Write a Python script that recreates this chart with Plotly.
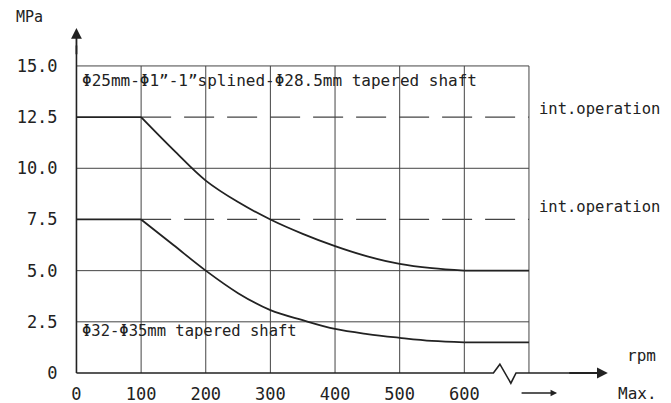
import plotly.graph_objects as go

# ---- data ----
rpm = [0, 100, 150, 200, 250, 300, 350, 400, 450, 500, 550, 600, 700]
upper_mpa = [12.5, 12.5, 10.9, 9.4, 8.35, 7.5, 6.8, 6.2, 5.7, 5.33, 5.12, 5.0, 5.0]
lower_mpa = [7.5, 7.5, 6.25, 5.0, 3.9, 3.07, 2.58, 2.15, 1.9, 1.72, 1.57, 1.5, 1.5]
int_levels = [12.5, 7.5]
x_ticks = [0, 100, 200, 300, 400, 500, 600]
x_ticktext = ["0", "100", "200", "300", "400", "500", "600"]
y_ticks = [0, 2.5, 5.0, 7.5, 10.0, 12.5, 15.0]
y_ticktext = ["0", "2.5", "5.0", "7.5", "10.0", "12.5", "15.0"]
upper_label = "Φ25mm-Φ1”-1”splined-Φ28.5mm tapered shaft"
lower_label = "Φ32-Φ35mm tapered shaft"
int_label = "int.operation"

INK = "#222222"
GRID = "#444444"
FONT = "DejaVu Sans Mono"
x_max = 700
y_max = 15.0
X_RANGE = [-10, 830]
Y_RANGE = [0, 17]

fig = go.Figure()

def seg(x0, y0, x1, y1, color=GRID, width=1, dash="solid"):
    fig.add_trace(go.Scatter(x=[x0, x1], y=[y0, y1], mode="lines",
                             line=dict(color=color, width=width, dash=dash),
                             cliponaxis=False, hoverinfo="skip"))

# grid
for xv in x_ticks[1:]:
    seg(xv, 0, xv, y_max)
for yv in [2.5, 5.0, 10.0]:
    seg(0, yv, x_max, yv)
seg(0, y_max, x_max, y_max)
seg(x_max, 0, x_max, y_max)

# intermittent-operation dashed levels
for lv in int_levels:
    seg(rpm[1], lv, x_max, lv, color=GRID, width=1.2, dash="30px,13px")

# curves: flat / smooth / flat
i100 = rpm.index(100)
i600 = rpm.index(600)
for ser in (upper_mpa, lower_mpa):
    fig.add_trace(go.Scatter(x=rpm[:i100 + 1], y=ser[:i100 + 1], mode="lines",
                             line=dict(color=INK, width=1.8), cliponaxis=False, hoverinfo="skip"))
    fig.add_trace(go.Scatter(x=rpm[i100:i600 + 1], y=ser[i100:i600 + 1], mode="lines",
                             line=dict(color=INK, width=1.8, shape="spline", smoothing=1.0),
                             cliponaxis=False, hoverinfo="skip"))
    fig.add_trace(go.Scatter(x=rpm[i600:], y=ser[i600:], mode="lines",
                             line=dict(color=INK, width=1.8), cliponaxis=False, hoverinfo="skip"))

# x axis with break (paper-referenced so it is not clipped at the plot edge)
def to_px(x):
    return (x - X_RANGE[0]) / (X_RANGE[1] - X_RANGE[0])

def to_py(y):
    return (y - Y_RANGE[0]) / (Y_RANGE[1] - Y_RANGE[0])

axis_x = [0, 645, 655, 672, 680, 800]
axis_y = [0, 0, 0.43, -0.5, 0, 0]
path = "M " + " L ".join(f"{to_px(a):.5f},{to_py(b):.5f}" for a, b in zip(axis_x, axis_y))
shapes = [dict(type="path", path=path, xref="paper", yref="paper",
               line=dict(color=INK, width=1.6))]

# y axis line
fig.add_trace(go.Scatter(x=[0, 0], y=[0, 16.0], mode="lines",
                         line=dict(color=INK, width=1.6), cliponaxis=False, hoverinfo="skip"))

ann = []
# arrow heads
ann.append(dict(x=822, y=0, ax=760, ay=0, xref="x", yref="y", axref="x", ayref="y",
                text="", showarrow=True, arrowhead=2, arrowsize=1.2, arrowwidth=1.8,
                arrowcolor=INK))
ann.append(dict(x=0, y=16.85, ax=0, ay=15.5, xref="x", yref="y", axref="x", ayref="y",
                text="", showarrow=True, arrowhead=2, arrowsize=1.2, arrowwidth=1.8,
                arrowcolor=INK))
ann.append(dict(x=0.897, y=-0.0575, ax=-37, ay=0, xref="paper", yref="paper",
                axref="pixel", ayref="pixel",
                text="", showarrow=True, arrowhead=2, arrowsize=1.0, arrowwidth=1.3,
                arrowcolor=INK))

def label(x, y, text, size=16, xanchor="left", ref="x"):
    ann.append(dict(x=x, y=y, xref=ref, yref=("y" if ref == "x" else "paper"),
                    text=text, showarrow=False,
                    xanchor=xanchor, yanchor="middle",
                    font=dict(family=FONT, size=size, color=INK)))

label(5, 14.3, upper_label, 16)
label(5, 2.05, lower_label, 15.5)
label(712, 12.9, int_label, 15.5)
label(712, 8.1, int_label, 15.5)
label(-0.0737, 1.023, "MPa", 15, "center", "paper")
label(1.0516, 0.0489, "rpm", 16, "center", "paper")
label(1.046, -0.0575, "Max.", 16, "center", "paper")

fig.update_layout(
    width=671, height=403,
    margin=dict(l=62, r=66, t=17, b=38),
    paper_bgcolor="white", plot_bgcolor="white",
    showlegend=False, hovermode=False,
    annotations=ann, shapes=shapes,
    xaxis=dict(range=X_RANGE, tickvals=x_ticks, ticktext=x_ticktext,
               showgrid=False, zeroline=False, showline=False,
               ticks="outside", ticklen=6, tickcolor="rgba(0,0,0,0)",
               automargin=False,
               tickfont=dict(family=FONT, size=17, color=INK)),
    yaxis=dict(range=Y_RANGE, tickvals=y_ticks, ticktext=y_ticktext,
               showgrid=False, zeroline=False, showline=False,
               ticks="outside", ticklen=8, tickcolor="rgba(0,0,0,0)",
               automargin=False,
               tickfont=dict(family=FONT, size=17, color=INK)),
)

fig.write_html("out.html")
